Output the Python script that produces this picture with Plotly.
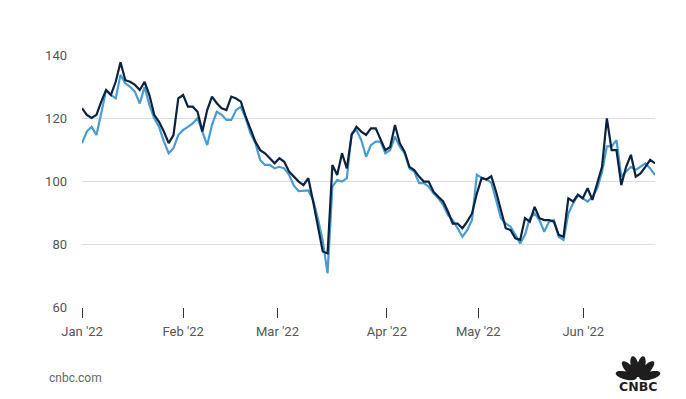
import math
import plotly.graph_objects as go

# ---- data ----
# one value per trading session, Jan 3 2022 .. late Jun 2022
dark_series = [
    123.1, 121, 120, 121, 125.2, 128.9, 127.3, 131.5, 137.7, 132,
    131.5, 130.5, 128.9, 131.5, 127.3, 121, 118.8, 115.7, 112, 114.6,
    126.2, 127.3, 123.6, 123.6, 122, 115.7, 122.5, 126.8, 124.7, 123.1,
    122.5, 126.8, 126.2, 125.2, 120.4, 116.2, 112.5, 109.8, 108.8, 107.2,
    105.6, 107.2, 106.1, 103, 101.4, 99.8, 98.7, 100.9, 93.5, 85.5,
    77.6, 77, 105.1, 101.9, 108.8, 104, 114.6, 117.2, 115.7, 114.6,
    116.7, 116.7, 113, 109.8, 110.8, 117.8, 112, 109.3, 104.5, 103.5,
    101.4, 99.8, 99.8, 96.6, 95, 93.5, 90.3, 86.5, 86.5, 85,
    87.1, 89.7, 96, 101, 100.5, 101.5, 96.6, 90.8, 85, 84.4,
    81.8, 81.3, 88.2, 87.1, 91.8, 88.2, 87.6, 87.6, 87.1, 82.9,
    82.3, 94.5, 93.5, 95.6, 94.5, 97.7, 94, 99.3, 104.5, 119.9,
    109.8, 109.8, 98.7, 104.5, 108.3, 101.4, 102.4, 104.5, 106.7, 105.6,
]
light_series = [
    112, 115.7, 117.2, 114.6, 121.5, 128.9, 127.3, 126.2, 133.7, 131,
    129.9, 128.3, 124.6, 129.9, 124.1, 119.9, 117.2, 112.6, 108.8, 110.4,
    114.6, 116.2, 117.2, 118.3, 119.9, 115.7, 111.4, 117.8, 122, 121,
    119.4, 119.4, 122.5, 123.6, 119.9, 115.1, 112, 106.7, 105.1, 105.1,
    104, 104.5, 104, 102, 98.5, 96.8, 96.8, 97, 94, 88,
    81, 70.7, 98.2, 100.3, 99.8, 100.9, 115.1, 116.2, 113, 107.7,
    111.4, 112.5, 112.5, 108.8, 109.8, 114.1, 110.9, 108.8, 104, 103,
    99.3, 99.3, 98.2, 96.1, 94.5, 92.4, 89.2, 87.6, 85, 82.3,
    84.4, 87.6, 102, 101, 100.5, 99.5, 94, 88.2, 86.5, 85.5,
    82.9, 80.2, 82.9, 88.2, 89.7, 87.6, 83.9, 87.1, 87.6, 82.3,
    81.3, 89.7, 92.9, 95.6, 94.5, 93.5, 95, 97.7, 102.9, 111,
    111, 113, 101.4, 103, 104.5, 103.5, 104.5, 105.6, 104, 101.9,
]
session = list(range(len(dark_series)))

month_labels = ["Jan '22", "Feb '22", "Mar '22", "Apr '22", "May '22", "Jun '22"]
month_tick_pos = [0, 21, 40.6, 63.3, 82.3, 104.1]
y_ticks = [60, 80, 100, 120, 140]

# ---- figure geometry (page has an 8px body margin) ----
OFF = 8
W, H = 686 - OFF, 399 - OFF
PLOT_X0, PLOT_X1 = 82, 655      # page pixels
PLOT_Y0, PLOT_Y1 = 55, 307
L, T = PLOT_X0 - OFF, PLOT_Y0 - OFF
R, B = W - (PLOT_X1 - OFF), H - (PLOT_Y1 - OFF)
PW, PH = PLOT_X1 - PLOT_X0, PLOT_Y1 - PLOT_Y0

fig = go.Figure()
fig.add_trace(go.Scatter(x=session, y=light_series, mode="lines",
                         line=dict(color="#4a9bd0", width=2.2), name="light"))
fig.add_trace(go.Scatter(x=session, y=dark_series, mode="lines",
                         line=dict(color="#0b2240", width=2.2), name="dark"))


def to_paper(px, py):
    return (px - PLOT_X0) / PW, (PLOT_Y1 - py) / PH


# CNBC peacock (decorative logo)
shapes = []
cx, cy = 638, 378.5
for ang in [166, 133, 104, 76, 47, 14]:
    th = math.radians(ang)
    length, half_w = 21.5, 4.0
    mid = 1.5 + length / 2
    pts = []
    for k in range(28):
        t = 2 * math.pi * k / 28
        a = (length / 2) * math.cos(t)
        b = half_w * math.sin(t)
        d = mid + a
        px = cx + d * math.cos(th) - b * math.sin(th)
        py = cy - (d * math.sin(th) + b * math.cos(th))
        pts.append(to_paper(px, py))
    path = "M " + " L ".join(f"{x:.5f},{y:.5f}" for x, y in pts) + " Z"
    shapes.append(dict(type="path", xref="paper", yref="paper", path=path,
                       fillcolor="#1e1e1e", line=dict(width=0)))

ax_cnbc, ay_cnbc = to_paper(47, 378)
ax_logo, ay_logo = to_paper(638, 386)

fig.update_layout(
    width=W, height=H,
    margin=dict(l=L, r=R, t=T, b=B, pad=0),
    plot_bgcolor="white", paper_bgcolor="white",
    showlegend=False,
    font=dict(family="Roboto", color="#555555", size=13),
    shapes=shapes,
    annotations=[
        dict(text="cnbc.com", xref="paper", yref="paper", x=ax_cnbc, y=ay_cnbc,
             xanchor="left", yanchor="middle", showarrow=False,
             font=dict(size=12, color="#666666", family="Roboto")),
        dict(text="<b>CNBC</b>", xref="paper", yref="paper", x=ax_logo, y=ay_logo,
             xanchor="center", yanchor="middle", showarrow=False,
             font=dict(size=12.5, color="#1e1e1e", family="DejaVu Sans")),
    ],
    xaxis=dict(range=[0, len(session) - 1], tickvals=month_tick_pos, ticktext=month_labels,
               ticks="outside", ticklen=10, tickcolor="#333333", tickwidth=1,
               showgrid=False, zeroline=False, showline=False,
               ticklabelstandoff=2, tickfont=dict(size=13, color="#555555")),
    yaxis=dict(range=[60, 140], tickvals=y_ticks, showgrid=True, gridcolor="#dcdcdc",
               gridwidth=1, zeroline=False, showline=False, ticks="",
               ticklabelstandoff=14, tickfont=dict(size=13, color="#555555")),
)

fig.write_html("out.html")
